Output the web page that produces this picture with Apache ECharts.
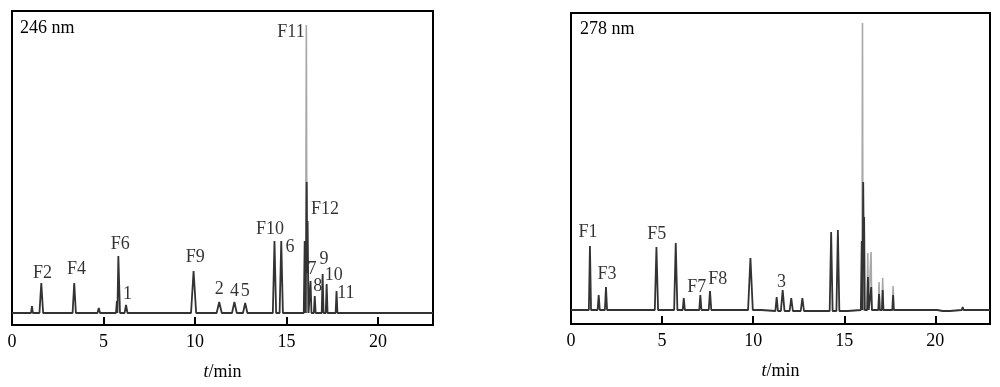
<!DOCTYPE html>
<html>
<head>
<meta charset="utf-8">
<script src="https://cdn.jsdelivr.net/npm/echarts@6/dist/echarts.min.js"></script>
<style>
html,body{margin:0;padding:0;background:#fff;}
#c{width:1000px;height:387px;}
</style>
</head>
<body>
<div id="c"></div>
<script>
// ---- data (t/min, signal) ----
var xTicks = [0, 5, 10, 15, 20];
var panelTitles = ['246 nm', '278 nm'];

// 246 nm: dark (sample) trace
var trace246Dark = [
  [0,0],[1.04,0],[1.09,7],[1.14,0],
  [1.50,0],[1.60,30],[1.70,0],
  [1.96,0],[2.00,2],[2.05,0],
  [3.31,0],[3.40,30],[3.49,0],
  [4.67,0],[4.74,5],[4.81,0],
  [5.68,0],[5.73,12],[5.76,0],[5.81,57],[5.90,0],
  [6.15,0],[6.23,8],[6.31,0],
  [7.12,0],[7.17,2],[7.22,0],
  [7.63,0],[7.68,2],[7.73,0],
  [9.78,0],[9.92,42],[10.06,0],
  [11.18,0],[11.32,11],[11.46,0],
  [11.65,0],[11.70,2],[11.75,0],
  [12.02,0],[12.15,11],[12.28,0],
  [12.62,0],[12.74,10],[12.86,0],
  [14.25,0],[14.34,72],[14.43,0],
  [14.62,0],[14.71,72],[14.80,0],
  [15.38,0],[15.42,2],[15.46,0],
  [15.94,0],[15.99,72],[16.04,0],[16.10,131],[16.13,40],[16.15,92],[16.20,0],
  [16.26,0],[16.31,32],[16.36,0],
  [16.49,0],[16.54,17],[16.59,0],
  [16.92,0],[16.97,39],[17.02,0],
  [17.14,0],[17.19,29],[17.24,0],
  [17.68,0],[17.73,22],[17.78,0],
  [18.62,0],[18.66,2],[18.70,0],
  [21.46,0],[21.50,2],[21.54,0],
  [23,0]
];
// 246 nm: grey (standard) trace
var trace246Grey = [
  [16.04,0],[16.08,288],[16.12,0]
];
var labels246Text = ['F2','F4','F6','1','F9','2','4','5','F10','6','F11','F12','7','8','9','10','11'];
var labels246Pos = [[1.67,40],[3.53,44],[5.92,69],[6.31,19],[10.01,56],[11.32,24],[12.16,22],[12.74,22],
  [14.10,84],[15.19,66],[15.24,281],[17.10,104],[16.39,44],[16.71,27],[17.04,54],[17.58,38],[18.24,20]];

// 278 nm: dark (sample) trace
var trace278Dark = [
  [0,0],[0.72,0],[0.77,1.5],[0.82,0],
  [0.98,0],[1.04,64],[1.10,0],
  [1.46,0],[1.52,15],[1.58,0],
  [1.86,0],[1.92,23],[1.98,0],
  [4.60,0],[4.69,63],[4.78,0],
  [5.66,0],[5.75,67],[5.84,0],
  [6.13,0],[6.19,12],[6.25,0],
  [7.04,0],[7.10,15],[7.16,0],
  [7.56,0],[7.63,19],[7.70,0],
  [9.30,0],[9.35,-2],[9.40,0],
  [9.72,0],[9.85,52],[9.98,0],
  [10.45,0],[10.55,-1],
  [11.22,-1],[11.29,13],[11.36,-1],
  [11.52,-1],[11.62,20],[11.72,-1],
  [12.00,-1],[12.09,12],[12.18,-1],
  [12.61,-1],[12.70,12],[12.79,-1],
  [14.20,-1],[14.28,78],[14.36,-1],
  [14.57,-1],[14.65,80],[14.73,-1],
  [15.20,-1],[15.25,0],
  [15.91,0],[15.96,69],[16.00,0],[16.04,128],[16.07,60],[16.09,93],[16.13,0],
  [16.26,0],[16.30,33],[16.34,0],
  [16.44,0],[16.48,23],[16.52,0],
  [16.87,0],[16.91,16],[16.95,0],
  [17.07,0],[17.11,20],[17.15,0],
  [17.64,0],[17.68,15],[17.72,0],
  [20.10,0],[20.14,-1],[20.18,0],[20.40,-1],[20.46,0],[20.80,-1],[20.86,0],
  [21.45,0],[21.50,3],[21.55,0],
  [23,0]
];
// 278 nm: grey (standard) trace
var trace278Grey = [
  [15.97,0],[16.00,287],[16.03,0],
  [16.25,0],[16.29,57],[16.33,0],
  [16.43,0],[16.47,58],[16.51,0],
  [16.87,0],[16.91,28],[16.95,0],
  [17.07,0],[17.11,32],[17.15,0],
  [17.64,0],[17.68,24],[17.72,0]
];
var labels278Text = ['F1','F3','F5','F7','F8','3'];
var labels278Pos = [[0.93,78],[1.97,36],[4.71,76],[6.90,23],[8.05,31],[11.56,28]];

// ---- chart ----
var FONT = 'Liberation Serif';
var FS = 18;
var Y_RANGES = [[-12, 302], [-14, 297]];
var TICK_LEN = 8; // y units = px (1 unit per px on both panels)
function labelData(texts, pos){
  return texts.map(function(t,i){ return {name:t, value:pos[i]}; });
}
function xAxisFor(idx){
  return {
    type:'value', gridIndex:idx, min:0, max:23, interval:5, z:10,
    name:'{i|t}/min', nameLocation:'middle', nameGap:38,
    nameTextStyle:{fontFamily:FONT, fontSize:FS, color:'#000',
      rich:{i:{fontFamily:FONT, fontSize:FS, fontStyle:'italic', color:'#000'}}},
    axisLine:{show:true, onZero:false, lineStyle:{color:'#000', width:2}},
    axisTick:{show:true, inside:true, length:8, lineStyle:{color:'#000', width:2}},
    axisLabel:{fontFamily:FONT, fontSize:FS, color:'#000', margin:8, showMaxLabel:false},
    splitLine:{show:false}
  };
}
function yAxisFor(idx){
  return {type:'value', gridIndex:idx, min:Y_RANGES[idx][0], max:Y_RANGES[idx][1], show:false, splitLine:{show:false}};
}
function tickMarks(idx){
  var y0 = Y_RANGES[idx][0];
  return {
    silent:true, symbol:['none','none'], label:{show:false},
    lineStyle:{color:'#000', width:2, type:'solid'},
    emphasis:{disabled:true},
    data: xTicks.filter(function(v){return v>0;}).map(function(v){
      return [{coord:[v, y0]}, {coord:[v, y0 + TICK_LEN]}];
    })
  };
}
function lineSeries(idx, data, color, w, z, withTicks){
  var s = {type:'line', xAxisIndex:idx, yAxisIndex:idx, data:data, showSymbol:false, symbol:'none',
    lineStyle:{color:color, width:w}, z:z, silent:true};
  if (withTicks) s.markLine = tickMarks(idx);
  return s;
}
function labelSeries(idx, data){
  return {type:'scatter', xAxisIndex:idx, yAxisIndex:idx, data:data, symbolSize:0, z:5,
    label:{show:true, position:'inside', formatter:'{b}', fontFamily:FONT, fontSize:FS, color:'#000'}};
}

var chart = echarts.init(document.getElementById('c'), null, {renderer:'canvas'});
chart.setOption({
  animation:false,
  backgroundColor:'#fff',
  title:[
    {text:panelTitles[0], left:20, top:19, textStyle:{fontFamily:FONT, fontSize:FS, fontWeight:'normal', color:'#000'}, padding:0},
    {text:panelTitles[1], left:580, top:20, textStyle:{fontFamily:FONT, fontSize:FS, fontWeight:'normal', color:'#000'}, padding:0}
  ],
  grid:[
    {left:12, top:11, width:421, height:314, show:true, borderColor:'#000', borderWidth:2, containLabel:false},
    {left:571, top:13, width:419, height:311, show:true, borderColor:'#000', borderWidth:2, containLabel:false}
  ],
  xAxis:[xAxisFor(0), xAxisFor(1)],
  yAxis:[yAxisFor(0), yAxisFor(1)],
  series:[
    lineSeries(0, trace246Grey, '#a8a8a8', 1.6, 2, false),
    lineSeries(0, trace246Dark, '#333', 1.8, 3, true),
    labelSeries(0, labelData(labels246Text, labels246Pos)),
    lineSeries(1, trace278Grey, '#a8a8a8', 1.6, 2, false),
    lineSeries(1, trace278Dark, '#333', 1.8, 3, true),
    labelSeries(1, labelData(labels278Text, labels278Pos))
  ]
});
</script>
</body>
</html>
